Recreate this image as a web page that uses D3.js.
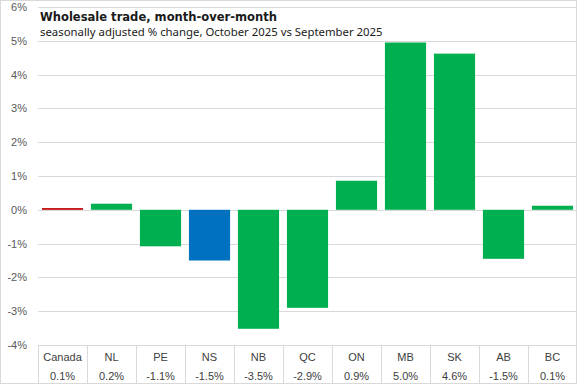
<!DOCTYPE html>
<html>
<head>
<meta charset="utf-8">
<script src="https://cdn.jsdelivr.net/npm/d3@7"></script>
<style>
  body { margin: 0; background: #fff; }
  svg { display: block; }
</style>
</head>
<body>
<div id="chart"></div>
<script>
// data
var regions = ["Canada", "NL", "PE", "NS", "NB", "QC", "ON", "MB", "SK", "AB", "BC"];
var changes = [0.05, 0.18, -1.08, -1.5, -3.52, -2.9, 0.86, 4.95, 4.62, -1.45, 0.12];
var labels = ["0.1%", "0.2%", "-1.1%", "-1.5%", "-3.5%", "-2.9%", "0.9%", "5.0%", "4.6%", "-1.5%", "0.1%"];
var yTicks = [6, 5, 4, 3, 2, 1, 0, -1, -2, -3, -4];

var W = 577, H = 384;
var margin = {top: 7, left: 38, right: 0, bottom: 39};
var width = W - margin.left - margin.right;
var height = H - margin.top - margin.bottom;

var svg = d3.select("#chart").append("svg")
    .attr("width", W)
    .attr("height", H);

// outer frame
svg.append("rect")
    .attr("x", 0.5).attr("y", 0.5)
    .attr("width", W - 1).attr("height", H - 1)
    .attr("fill", "#fff")
    .attr("stroke", "#d9d9d9");

var g = svg.append("g")
    .attr("transform", "translate(" + margin.left + "," + margin.top + ")");

var x = d3.scaleBand()
    .domain(regions)
    .range([0, width])
    .paddingInner(0.16)
    .paddingOuter(0.08);

var xCell = d3.scaleBand()
    .domain(regions)
    .range([0, width]);

var y = d3.scaleLinear()
    .domain([-4, 6])
    .range([height, 0]);

// gridlines
g.selectAll(".grid")
    .data(yTicks)
    .enter()
    .append("line")
    .attr("class", "grid")
    .attr("x1", 0)
    .attr("x2", width)
    .attr("y1", function(d) { return Math.round(y(d)) + 0.5; })
    .attr("y2", function(d) { return Math.round(y(d)) + 0.5; })
    .attr("stroke", "#d9d9d9")
    .attr("stroke-width", 1);

// y labels
g.selectAll(".ylab")
    .data(yTicks)
    .enter()
    .append("text")
    .attr("class", "ylab")
    .attr("x", -11)
    .attr("y", function(d) { return y(d) + 4; })
    .attr("text-anchor", "end")
    .attr("font-family", "Liberation Sans, Arial, sans-serif")
    .attr("font-size", "11px")
    .attr("fill", "#595959")
    .text(function(d) { return d + "%"; });

// bars
function barColor(i) {
    if (regions[i] == "Canada") return "#c00000";
    if (regions[i] == "NS") return "#0070c0";
    return "#00b050";
}

g.selectAll(".bar")
    .data(changes)
    .enter()
    .append("rect")
    .attr("class", "bar")
    .attr("x", function(d, i) { return x(regions[i]); })
    .attr("width", x.bandwidth())
    .attr("y", function(d) { return y(Math.max(0, d)); })
    .attr("height", function(d) { return Math.abs(y(d) - y(0)); })
    .attr("fill", function(d, i) { return barColor(i); });

// data table under axis
var table = g.append("g")
    .attr("transform", "translate(0," + height + ")");

table.selectAll(".sep")
    .data(regions.slice(1))
    .enter()
    .append("line")
    .attr("class", "sep")
    .attr("x1", function(d) { return Math.round(xCell(d)) + 0.5; })
    .attr("x2", function(d) { return Math.round(xCell(d)) + 0.5; })
    .attr("y1", 0)
    .attr("y2", margin.bottom)
    .attr("stroke", "#d9d9d9");

table.append("line")
    .attr("x1", 0.5).attr("x2", 0.5)
    .attr("y1", 0).attr("y2", margin.bottom)
    .attr("stroke", "#d9d9d9");

table.selectAll(".cat")
    .data(regions)
    .enter()
    .append("text")
    .attr("class", "cat")
    .attr("x", function(d) { return xCell(d) + xCell.bandwidth() / 2; })
    .attr("y", 16)
    .attr("text-anchor", "middle")
    .attr("font-family", "Liberation Sans, Arial, sans-serif")
    .attr("font-size", "11px")
    .attr("fill", "#404040")
    .text(function(d) { return d; });

table.selectAll(".val")
    .data(labels)
    .enter()
    .append("text")
    .attr("class", "val")
    .attr("x", function(d, i) { return xCell(regions[i]) + xCell.bandwidth() / 2; })
    .attr("y", 35)
    .attr("text-anchor", "middle")
    .attr("font-family", "Liberation Sans, Arial, sans-serif")
    .attr("font-size", "11px")
    .attr("fill", "#404040")
    .text(function(d) { return d; });

// titles, sized to the width they take in the original
function fitText(sel, target) {
    var size = parseFloat(sel.attr("font-size"));
    var len = sel.node().getComputedTextLength();
    sel.attr("font-size", (size * target / len).toFixed(2) + "px");
}

var title = svg.append("text")
    .attr("x", 40)
    .attr("y", 21)
    .attr("font-family", "DejaVu Sans Condensed, Noto Sans, sans-serif")
    .attr("font-weight", "bold")
    .attr("font-size", "15px")
    .attr("fill", "#1a1a1a")
    .text("Wholesale trade, month-over-month");
fitText(title, 237);

var subtitle = svg.append("text")
    .attr("x", 40)
    .attr("y", 36)
    .attr("font-family", "Noto Sans, sans-serif")
    .attr("font-size", "12px")
    .attr("fill", "#1a1a1a")
    .text("seasonally adjusted % change, October 2025 vs September 2025");
fitText(subtitle, 343);
</script>
</body>
</html>
